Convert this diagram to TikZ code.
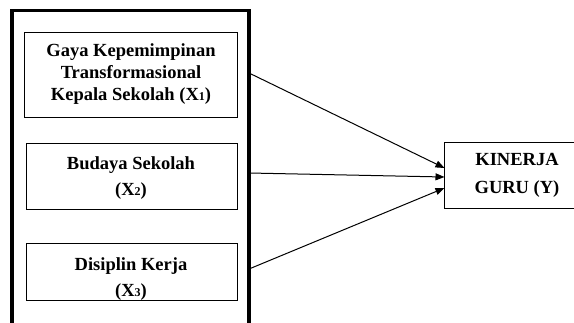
\documentclass[tikz,border=0pt]{standalone}
\usepackage{fontspec}
\setmainfont{Liberation Serif}
\usetikzlibrary{arrows.meta}
\newcommand{\subd}[1]{\raisebox{-0.5pt}{\fontsize{12}{12}\selectfont #1}}
\begin{document}
\begin{tikzpicture}[x=1pt,y=-1pt,
  varbox/.style={draw,line width=0.9pt,inner sep=0pt},
  lbl/.style={font=\bfseries\fontsize{18.5}{22}\selectfont,align=center},
  arr/.style={line width=1pt,-{Triangle[length=9pt,width=7pt]}}]
\useasboundingbox (0,0) rectangle (574,322);
\begin{scope}
\clip (0,0) rectangle (574,322);
\draw[line width=3.2pt] (12,330) -- (12,10.7) -- (249,10.7) -- (249,330);
\end{scope}
\node[varbox,minimum width=213pt,minimum height=85pt] (x1) at (130.5,74.5) {};
\node[varbox,minimum width=211pt,minimum height=66pt] (x2) at (131.5,176) {};
\node[varbox,minimum width=211pt,minimum height=57pt] (x3) at (131.5,271.5) {};
\node[draw,line width=0.9pt,minimum width=130pt,minimum height=66pt] (y) at (509.5,175) {};
\node[lbl] (t1) at (131,74) {Gaya Kepemimpinan\\Transformasional\\Kepala Sekolah (X\subd{1})};
\node[lbl] (t2) at (131,178) {Budaya Sekolah\\[4pt](X\subd{2})};
\node[lbl] (t3) at (131,279) {Disiplin Kerja\\[4pt](X\subd{3})};
\node[lbl] (ty) at (517,175) {KINERJA\\[6pt]GURU (Y)};
\coordinate (s1) at (249,73);
\coordinate (s2) at (249,173);
\coordinate (s3) at (249,269);
\coordinate (e1) at (444.5,168);
\coordinate (e2) at (444.5,177);
\coordinate (e3) at (444.5,188);
\draw[arr] (s1) -- (e1);
\draw[arr] (s2) -- (e2);
\draw[arr] (s3) -- (e3);
\end{tikzpicture}
\end{document}
